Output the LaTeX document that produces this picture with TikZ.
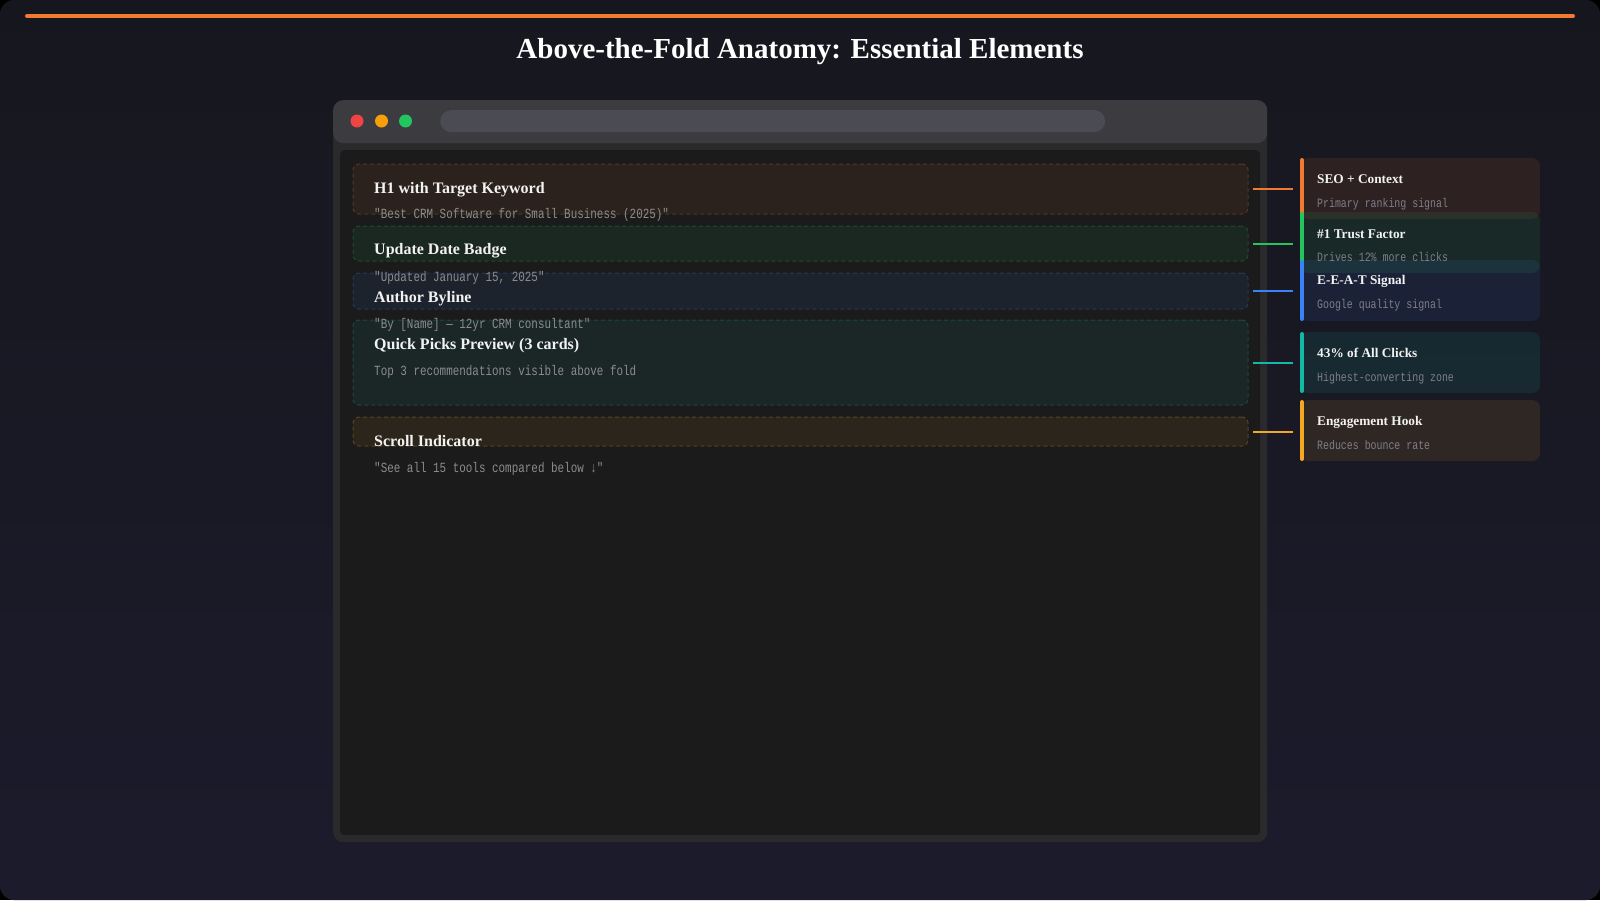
\documentclass[tikz,border=0pt]{standalone}
\usepackage{fontspec}
\setmainfont{Liberation Serif}
\newfontfamily\monof[FakeStretch=0.78]{Liberation Mono}
\definecolor{acOr}{HTML}{F07A2F}
\definecolor{acGr}{HTML}{22C55E}
\definecolor{acBl}{HTML}{3B82F6}
\definecolor{acTe}{HTML}{14B8A6}
\definecolor{acAm}{HTML}{F5A623}
\definecolor{bgTop}{HTML}{16171E}
\definecolor{bgBot}{HTML}{1C1B2C}
\definecolor{winFrame}{HTML}{2A2A2D}
\definecolor{winBar}{HTML}{3B3B40}
\definecolor{winAddr}{HTML}{4B4B53}
\definecolor{winIn}{HTML}{1B1B1C}
\definecolor{txtW}{HTML}{F2F2F2}
\definecolor{txtG}{HTML}{8C8C8C}
\definecolor{txtGb}{HTML}{7E7E88}
\definecolor{tlRed}{HTML}{EF4444}
\definecolor{tlAmb}{HTML}{F5A00B}
\definecolor{tlGrn}{HTML}{22C55E}
\tikzset{
  elbox/.style={draw=#1, draw opacity=0.25, fill=#1, fill opacity=0.08, dash pattern=on 4pt off 3pt, line width=1pt, rounded corners=6pt, minimum width=895pt, anchor=north west, inner sep=0pt, outer sep=0pt},
  eltitle/.style={anchor=base west, inner sep=0pt, text=txtW, font=\fontsize{16}{18}\selectfont\bfseries},
  elsub/.style={anchor=base west, inner sep=0pt, text=txtG, font=\fontsize{14}{16}\selectfont\monof},
  card/.style={fill=#1, fill opacity=0.1, rounded corners=8pt, minimum width=240pt, minimum height=61pt, anchor=north west, inner sep=0pt, outer sep=0pt},
  cardbar/.style={draw=#1, line width=4pt, line cap=round, shorten <=2pt, shorten >=2pt},
  cdtitle/.style={anchor=base west, inner sep=0pt, text=txtW, font=\fontsize{13.3}{15}\selectfont\bfseries},
  cdsub/.style={anchor=base west, inner sep=0pt, text=txtGb, font=\fontsize{12.7}{14}\selectfont\monof},
  conn/.style={draw=#1, line width=2pt, shorten <=5pt, shorten >=7pt},
  light/.style={circle, fill=#1, minimum size=13pt, inner sep=0pt},
}
\begin{document}
\begin{tikzpicture}[x=1pt,y=-1pt]
\useasboundingbox (0,0) rectangle (1600,900);
% background
\fill[black] (0,0) rectangle (1600,900);
\shade[top color=bgTop, bottom color=bgBot, rounded corners=14pt] (0,0) rectangle (1600,900);
% top accent bar
\coordinate (barL) at (27,16);
\coordinate (barR) at (1573,16);
\draw[acOr, line width=4pt, line cap=round] (barL) -- (barR);
% title
\node[anchor=base, inner sep=0pt, text=white, font=\fontsize{29}{32}\selectfont\bfseries] (title) at (800,58) {Above-the-Fold Anatomy: Essential Elements};
% browser window
\node[fill=winFrame, rounded corners=10pt, minimum width=934pt, minimum height=742pt, anchor=north west, inner sep=0pt] (win) at (333,100) {};
\node[fill=winBar, rounded corners=10pt, minimum width=934pt, minimum height=43pt, anchor=north west, inner sep=0pt] (wbar) at (333,100) {};
\node[fill=winIn, rounded corners=4pt, minimum width=920pt, minimum height=685pt, anchor=north west, inner sep=0pt] (wbody) at (340,150) {};
\node[light=tlRed] (red) at (357,121) {};
\node[light=tlAmb] (amb) at (381.5,121) {};
\node[light=tlGrn] (grn) at (405.5,121) {};
\node[fill=winAddr, rounded corners=11pt, minimum width=665pt, minimum height=22pt, anchor=north west, inner sep=0pt] (addr) at (440,110) {};
% element boxes
\node[elbox=acOr, minimum height=50pt] (b1) at (353,164) {};
\node[elbox=acGr, minimum height=35pt] (b2) at (353,226) {};
\node[elbox=acBl, minimum height=36pt] (b3) at (353,273) {};
\node[elbox=acTe, minimum height=85pt] (b4) at (353,320) {};
\node[elbox=acAm, minimum height=29pt] (b5) at (353,417) {};
% element texts
\node[eltitle] (t1) at (374,193) {H1 with Target Keyword};
\node[elsub] (s1) at (374,218) {"Best CRM Software for Small Business (2025)"};
\node[eltitle] (t2) at (374,254) {Update Date Badge};
\node[elsub] (s2) at (374,281) {"Updated January 15, 2025"};
\node[eltitle] (t3) at (374,302) {Author Byline};
\node[elsub] (s3) at (374,328) {"By [Name] — 12yr CRM consultant"};
\node[eltitle] (t4) at (374,349) {Quick Picks Preview (3 cards)};
\node[elsub] (s4) at (374,375) {Top 3 recommendations visible above fold};
\node[eltitle] (t5) at (374,446) {Scroll Indicator};
\node[elsub] (s5) at (374,472) {"See all 15 tools compared below ↓"};
% cards
\node[card=acOr] (c1) at (1300,158) {};
\draw[cardbar=acOr] ([xshift=2pt]c1.north west) -- ([xshift=2pt]c1.south west);
\node[cdtitle] (ct1) at (1317,183) {SEO + Context};
\node[cdsub] (cs1) at (1317,207) {Primary ranking signal};
\node[card=acGr] (c2) at (1300,212) {};
\draw[cardbar=acGr] ([xshift=2pt]c2.north west) -- ([xshift=2pt]c2.south west);
\node[cdtitle] (ct2) at (1317,238) {\#1 Trust Factor};
\node[cdsub] (cs2) at (1317,261) {Drives 12\% more clicks};
\node[card=acBl] (c3) at (1300,260) {};
\draw[cardbar=acBl] ([xshift=2pt]c3.north west) -- ([xshift=2pt]c3.south west);
\node[cdtitle] (ct3) at (1317,284) {E-E-A-T Signal};
\node[cdsub] (cs3) at (1317,308) {Google quality signal};
\node[card=acTe] (c4) at (1300,332) {};
\draw[cardbar=acTe] ([xshift=2pt]c4.north west) -- ([xshift=2pt]c4.south west);
\node[cdtitle] (ct4) at (1317,357) {43\% of All Clicks};
\node[cdsub] (cs4) at (1317,381) {Highest-converting zone};
\node[card=acAm] (c5) at (1300,400) {};
\draw[cardbar=acAm] ([xshift=2pt]c5.north west) -- ([xshift=2pt]c5.south west);
\node[cdtitle] (ct5) at (1317,425) {Engagement Hook};
\node[cdsub] (cs5) at (1317,449) {Reduces bounce rate};
% connectors
\draw[conn=acOr] (b1.east) -- (b1.east -| c1.west);
\draw[conn=acGr] (b2.east) -- (b2.east -| c2.west);
\draw[conn=acBl] (b3.east) -- (b3.east -| c3.west);
\draw[conn=acTe] (b4.east) -- (b4.east -| c4.west);
\draw[conn=acAm] (b5.east) -- (b5.east -| c5.west);
\end{tikzpicture}
\end{document}
